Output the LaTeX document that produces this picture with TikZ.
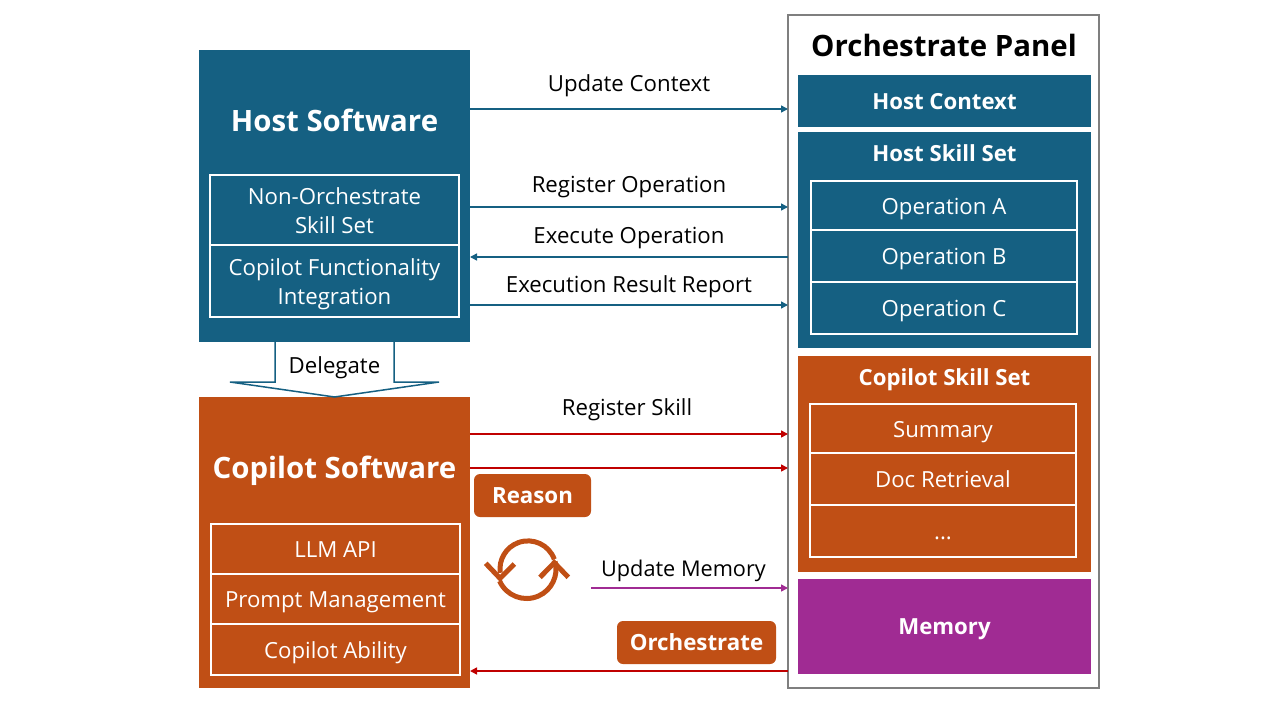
\documentclass[tikz,border=0pt]{standalone}
\usepackage{fontspec}
\setmainfont{Open Sans}
\usetikzlibrary{positioning, arrows.meta}
\definecolor{hostblue}{HTML}{156082}
\definecolor{copilotorange}{HTML}{C04F15}
\definecolor{memorypurple}{HTML}{A02B93}
\definecolor{arrowred}{HTML}{C00000}
\definecolor{panelgray}{HTML}{7F7F7F}
\tikzset{
every node/.style={inner sep=0pt, outer sep=0pt},
oneline/.style={text height=#1*0.90pt, text depth=#1*0.10pt},
oneline/.default=22.2,
hostfill/.style={fill=hostblue, text=white},
copilotfill/.style={fill=copilotorange, text=white},
titletext/.style={font=\fontsize{29.4}{33}\selectfont\bfseries, oneline=29.4},
sectiontext/.style={font=\fontsize{22.2}{26}\selectfont\bfseries, oneline},
itembox/.style={draw=white, line width=1.6pt, minimum width=#1, font=\fontsize{22.2}{29}\selectfont, align=center},
twoline/.style={text height=46pt, text depth=0pt},
chip/.style={rounded corners=6pt, fill=copilotorange, text=white, minimum height=43pt, font=\fontsize{22.3}{26}\selectfont\bfseries, text height=19pt, text depth=3pt},
flowlabel/.style={font=\fontsize{22.2}{26}\selectfont, oneline},
flow/.style={-{Triangle[length=7pt,width=7pt]}, line width=1.5pt},
}

\begin{document}
\begin{tikzpicture}[x=1pt, y=-1pt]
    \useasboundingbox (0,0) rectangle (1280,720);
    % left column
    \node[hostfill, minimum width=271pt, minimum height=292pt] (host) at (334.5,196) {};
    \node[text=white, titletext] (hosttitle) at (334.5,120) {Host Software};
    \node[hostfill, itembox=249pt, minimum height=70pt, twoline] (nonorch) at (334.5,210) {Non-Orchestrate\\Skill Set};
    \node[hostfill, itembox=249pt, minimum height=72pt, twoline, below=0pt of nonorch] (funcint) {Copilot Functionality\\Integration};
    \node[copilotfill, minimum width=271pt, minimum height=291pt] (copilot) at (334.5,542.5) {};
    \node[text=white, titletext] (copilottitle) at (334.5,466.5) {Copilot Software};
    \node[copilotfill, itembox=249pt, minimum height=50pt, oneline] (llm) at (335.5,549) {LLM API};
    \node[copilotfill, itembox=249pt, minimum height=50pt, oneline, below=0pt of llm] (prompt) {Prompt Management};
    \node[copilotfill, itembox=249pt, minimum height=51pt, oneline, below=0pt of prompt] (ability) {Copilot Ability};
    % delegate arrow between the two boxes
    \draw[hostblue, line width=1.5pt, fill=white] (host.south -| 275,0) -- (275,382) -- (230,382) -- (copilot.north) -- (439,382) -- (394,382) -- (host.south -| 394,0);
    \node[flowlabel] (delegate) at (334.5,365) {Delegate};
    % panel
    \node[draw=panelgray, line width=2pt, fill=white, minimum width=311pt, minimum height=673pt] (panel) at (943.5,351.5) {};
    \node[titletext] (paneltitle) at (944,45) {Orchestrate Panel};
    \node[hostfill, sectiontext, minimum width=293pt, minimum height=52pt] (context) at (944.5,101) {Host Context};
    \node[hostfill, minimum width=293pt, minimum height=216pt] (hostset) at (944.5,240) {};
    \node[text=white, sectiontext] (hostsettitle) at (944.5,153) {Host Skill Set};
    \node[hostfill, itembox=266pt, minimum height=49pt, oneline] (opa) at (944,205.5) {Operation A};
    \node[hostfill, itembox=266pt, minimum height=52pt, oneline, below=0pt of opa] (opb) {Operation B};
    \node[hostfill, itembox=266pt, minimum height=52pt, oneline, below=0pt of opb] (opc) {Operation C};
    \node[copilotfill, minimum width=293pt, minimum height=216pt] (copilotset) at (944.5,464) {};
    \node[text=white, sectiontext] (copilotsettitle) at (944.5,377) {Copilot Skill Set};
    \node[copilotfill, itembox=266pt, minimum height=49pt, oneline] (summary) at (943,428.5) {Summary};
    \node[copilotfill, itembox=266pt, minimum height=52pt, oneline, below=0pt of summary] (retrieval) {Doc Retrieval};
    \node[copilotfill, itembox=266pt, minimum height=52pt, oneline, below=0pt of retrieval] (more) {...};
    \node[fill=memorypurple, text=white, sectiontext, minimum width=293pt, minimum height=95pt] (memory) at (944.5,626) {Memory};
    % chips
    \node[chip, minimum width=117pt] (reason) at (532.5,495.5) {Reason};
    \node[chip, minimum width=159pt] (orchestrate) at (696.5,642.5) {Orchestrate};
    % reason loop icon
    \begin{scope}[copilotorange, line width=5pt]
        \draw (554.3,559.3) arc[start angle=-20, end angle=-188, radius=28];
        \draw (499.6,581) arc[start angle=-204, end angle=-375, radius=29.5];
        \draw (485.7,563.3) -- (500,578.3) -- (514.3,564);
        \draw (540,577.3) -- (554.3,562.7) -- (568.3,577.3);
    \end{scope}
    \coordinate (memstart) at (591,588);
    % connectors
    \draw[flow, hostblue] (host.east |- 0,109) -- node[flowlabel, text=black, above=15pt] (lblctx) {Update Context} (panel.west |- 0,109);
    \draw[flow, hostblue] (host.east |- 0,207) -- node[flowlabel, text=black, above=12pt] (lblreg) {Register Operation} (panel.west |- 0,207);
    \draw[flow, hostblue] (panel.west |- 0,257) -- node[flowlabel, text=black, above=11pt] (lblexe) {Execute Operation} (host.east |- 0,257);
    \draw[flow, hostblue] (host.east |- 0,305) -- node[flowlabel, text=black, above=10pt] (lblres) {Execution Result Report} (panel.west |- 0,305);
    \draw[flow, arrowred] (copilot.east |- 0,434) -- node[flowlabel, text=black, above=16pt, xshift=-2pt] (lblskill) {Register Skill} (panel.west |- 0,434);
    \draw[flow, arrowred] (copilot.east |- 0,468) -- (panel.west |- 0,468);
    \draw[flow, memorypurple] (memstart) -- node[flowlabel, font=\fontsize{21.7}{26}\selectfont, text=black, above=9pt, xshift=-6pt] (lblmem) {Update Memory} (panel.west |- memstart);
    \draw[flow, arrowred] (panel.west |- 0,671) -- (copilot.east |- 0,671);
\end{tikzpicture}
\end{document}
